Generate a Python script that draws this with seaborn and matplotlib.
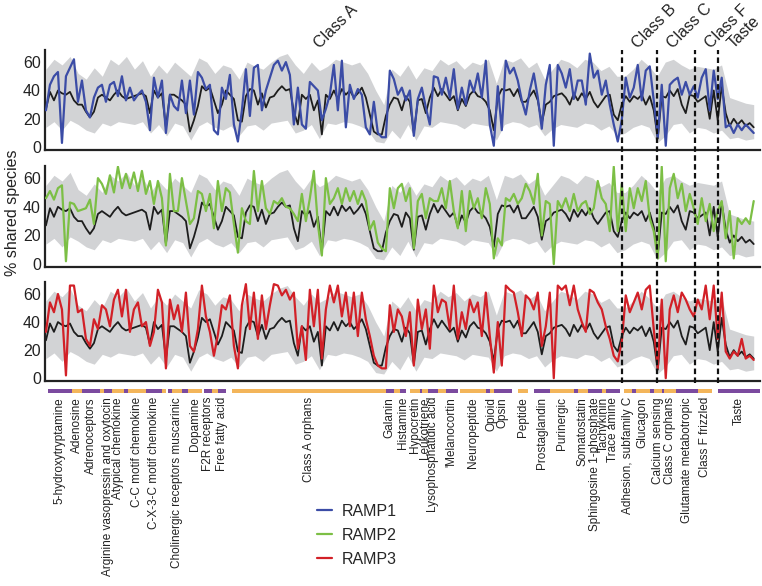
import numpy as np
import matplotlib.pyplot as plt
import seaborn as sns
from matplotlib.lines import Line2D

# % shared species per receptor position, one list per RAMP
ramp1 = [26, 44, 50, 53, 3, 50, 56, 62, 32, 47,
         26, 21, 35, 42, 44, 32, 44, 46, 36, 50,
         33, 42, 33, 37, 40, 32, 12, 49, 35, 47,
         10, 37, 29, 26, 47, 24, 47, 23, 53, 49,
         41, 44, 12, 9, 42, 34, 51, 16, 4, 26,
         55, 22, 56, 58, 26, 40, 49, 58, 61, 54,
         60, 51, 16, 42, 16, 13, 46, 43, 40, 19,
         27, 37, 58, 26, 61, 14, 44, 34, 41, 37,
         14, 9, 32, 10, 7, 7, 54, 48, 37, 42,
         33, 40, 8, 34, 42, 28, 16, 50, 49, 37,
         49, 35, 55, 27, 42, 30, 47, 39, 52, 35,
         61, 16, 1, 43, 12, 61, 52, 56, 47, 33,
         23, 40, 52, 35, 13, 44, 58, 1, 58, 52,
         42, 55, 34, 47, 47, 30, 66, 49, 54, 37,
         47, 30, 16, 4, 19, 49, 35, 42, 58, 33,
         54, 57, 33, 7, 44, 1, 44, 47, 49, 37,
         46, 37, 43, 35, 49, 55, 26, 54, 34, 49,
         14, 16, 10, 16, 12, 16, 13, 10]
ramp2 = [46, 51, 45, 53, 55, 2, 43, 42, 37, 38,
         39, 45, 28, 60, 56, 49, 62, 50, 68, 53,
         63, 53, 64, 51, 65, 49, 58, 42, 58, 46,
         13, 63, 37, 37, 60, 44, 28, 32, 51, 49,
         37, 49, 25, 58, 37, 53, 50, 28, 8, 39,
         30, 28, 65, 37, 58, 39, 35, 44, 42, 46,
         40, 39, 35, 30, 49, 30, 46, 65, 28, 6,
         60, 42, 46, 53, 42, 53, 44, 51, 42, 51,
         44, 24, 30, 15, 11, 9, 53, 39, 53, 56,
         44, 53, 11, 44, 49, 32, 46, 44, 44, 53,
         39, 58, 37, 25, 51, 23, 51, 39, 46, 32,
         53, 42, 4, 18, 13, 46, 44, 49, 42, 46,
         56, 51, 42, 63, 20, 44, 42, 0, 44, 39,
         46, 37, 49, 37, 42, 44, 35, 39, 58, 46,
         42, 23, 68, 23, 56, 23, 53, 39, 53, 44,
         58, 32, 23, 4, 68, 2, 53, 63, 46, 56,
         37, 49, 39, 28, 46, 30, 42, 23, 37, 44,
         18, 37, 4, 32, 28, 32, 28, 44]
ramp3 = [33, 54, 47, 60, 49, 2, 66, 66, 47, 49,
         28, 23, 42, 35, 52, 49, 37, 56, 63, 44,
         63, 33, 49, 54, 37, 40, 23, 33, 63, 54,
         7, 56, 42, 52, 33, 61, 23, 19, 35, 66,
         44, 33, 16, 31, 52, 49, 59, 23, 7, 52,
         67, 35, 61, 28, 59, 35, 52, 67, 66, 59,
         63, 56, 61, 21, 37, 13, 63, 37, 63, 14,
         49, 66, 54, 66, 44, 61, 37, 61, 30, 61,
         42, 30, 16, 9, 7, 7, 52, 33, 49, 44,
         30, 47, 9, 56, 35, 49, 21, 66, 47, 56,
         54, 35, 66, 28, 47, 35, 56, 47, 54, 30,
         61, 30, 4, 40, 9, 66, 63, 61, 47, 30,
         59, 56, 49, 61, 23, 37, 61, 0, 66, 63,
         66, 52, 66, 49, 40, 33, 63, 61, 54, 49,
         37, 28, 16, 12, 26, 59, 47, 54, 61, 49,
         63, 66, 35, 7, 56, 0, 49, 59, 47, 61,
         56, 49, 44, 56, 49, 66, 42, 66, 28, 61,
         19, 14, 19, 16, 28, 14, 16, 13]

# mean over all RAMPs (black) and its spread (grey band, every second position)
mean_all = [27, 39, 33, 40, 38, 37, 39, 33, 30, 30,
            25, 21, 25, 35, 37, 35, 33, 37, 40, 36,
            34, 35, 36, 37, 38, 36, 24, 40, 35, 38,
            14, 37, 37, 35, 33, 30, 11, 19, 29, 43,
            40, 42, 33, 24, 30, 40, 37, 34, 19, 18,
            36, 41, 40, 30, 38, 28, 35, 36, 40, 43,
            40, 41, 25, 16, 37, 34, 37, 26, 33, 9,
            37, 34, 40, 34, 41, 37, 40, 35, 38, 42,
            35, 23, 11, 9, 9, 22, 30, 35, 34, 26,
            36, 32, 10, 33, 34, 24, 35, 42, 36, 41,
            37, 33, 36, 26, 34, 29, 37, 40, 36, 35,
            32, 26, 12, 35, 41, 40, 41, 36, 41, 32,
            32, 36, 40, 33, 17, 30, 32, 36, 37, 38,
            35, 30, 38, 33, 38, 34, 39, 32, 28, 32,
            36, 37, 23, 19, 30, 36, 32, 36, 34, 37,
            30, 36, 26, 6, 36, 35, 40, 36, 41, 30,
            24, 37, 36, 32, 34, 36, 20, 40, 19, 43,
            24, 15, 20, 16, 19, 15, 17, 14]
band_hi = [55, 62, 58, 64, 52, 48, 56, 50, 62, 58,
           64, 55, 61, 50, 58, 52, 60, 55, 50, 63,
           60, 52, 58, 56, 48, 60, 57, 55, 60, 64,
           66, 58, 52, 60, 54, 57, 62, 60, 58, 60,
           52, 40, 30, 55, 50, 58, 48, 56, 54, 62,
           58, 61, 55, 60, 58, 62, 45, 62, 60, 63,
           56, 60, 48, 55, 62, 60, 56, 62, 60, 54,
           57, 50, 50, 55, 62, 57, 50, 60, 62, 58,
           55, 57, 56, 55, 58, 35, 33, 31, 30]
band_lo = [14, 18, 12, 19, 16, 12, 10, 17, 15, 18,
           17, 16, 18, 10, 16, 8, 17, 15, 5, 15,
           18, 14, 12, 15, 8, 15, 16, 12, 17, 18,
           19, 10, 12, 16, 6, 17, 16, 18, 17, 15,
           12, 4, 3, 12, 6, 16, 5, 15, 14, 18,
           17, 16, 13, 17, 16, 15, 5, 16, 18, 17,
           14, 16, 8, 13, 16, 15, 14, 17, 16, 12,
           15, 8, 10, 14, 16, 14, 3, 8, 16, 17,
           10, 14, 13, 10, 12, 6, 7, 5, 6]

# receptor families along x (start slot, number of slots)
fam_names = ["5-hydroxytryptamine", "Adenosine", "Adrenoceptors", "",
             "Arginine vasopressin and oxytocin", "Atypical chemokine", "",
             "C-C motif chemokine", "C-X-3-C motif chemokine", "", "",
             "Cholinergic receptors muscarinic", "", "Dopamine", "F2R receptors", "",
             "Free fatty acid", "Class A orphans", "Galanin", "", "Histamine",
             "Hypocretin", "", "Leukotriene", "Lysophosphatidic acid", "",
             "'Melanocortin", "Neuropeptide", "", "Opioid", "Opsin", "Peptide",
             "Prostaglandin", "Purinergic", "", "Somatostatin",
             "Sphingosine 1-phosphate", "Tachykinin", "Trace amine",
             "Adhesion, subfamily C", "", "Glucagon", "", "Calcium sensing", "",
             "Class C orphans", "Glutamate metabotropic", "Class F frizzled", "Taste"]
fam_start = [1, 13, 18, 27, 29, 33, 39, 41, 50, 58, 61, 63, 68, 71, 79, 83, 86,
             93, 170, 174, 177, 182, 187, 188, 191, 196, 200, 207, 220, 222, 224,
             236, 244, 252, 264, 266, 271, 278, 280, 289, 293, 295, 302, 304, 308,
             309, 315, 326, 336]
fam_size = [12, 5, 9, 2, 4, 6, 2, 9, 8, 2, 2, 5, 3, 7, 4, 3, 4,
            77, 4, 3, 3, 5, 1, 3, 5, 4, 6, 13, 2, 2, 9,
            5, 8, 12, 2, 5, 7, 2, 7, 4, 2, 7, 2, 4, 1,
            6, 11, 7, 21]

class_names = ["Class A", "Class B", "Class C", "Class F", "Taste"]
class_start = [0, 288, 305.5, 324.5, 336]

SPAN = 354
XLIM = (-0.5, 357)


def spread(vals):
    return np.linspace(0, SPAN, len(vals))


sns.set_theme(style="ticks")
plt.rcParams["font.family"] = ["Liberation Sans", "DejaVu Sans"]

fig = plt.figure(figsize=(7.62, 5.86), dpi=100)
left, width = 0.059, 0.938
rows = [(0.744, 0.1706), (0.5444, 0.1724), (0.3498, 0.1689)]
series = [("RAMP1", ramp1, "#3b4ca6"),
          ("RAMP2", ramp2, "#7cbf45"),
          ("RAMP3", ramp3, "#d22027")]

for (bottom, height), (name, vals, color) in zip(rows, series):
    ax = fig.add_axes([left, bottom, width, height])
    ax.set_facecolor("none")
    ax.fill_between(spread(band_lo), band_lo, band_hi, color="#d2d3d5", lw=0, zorder=1)
    sns.lineplot(x=spread(mean_all), y=mean_all, ax=ax, color="#1d1d1d",
                 lw=1.3, zorder=2, estimator=None)
    sns.lineplot(x=spread(vals), y=vals, ax=ax, color=color,
                 lw=1.6, zorder=3, estimator=None)
    ax.set_xlim(*XLIM)
    ax.set_ylim(-2, 68.5)
    ax.set_yticks([0, 20, 40, 60])
    ax.set_xticks([])
    ax.set_xlabel("")
    ax.set_ylabel("")
    ax.tick_params(axis="y", length=0, pad=3, labelsize=11.5, colors="#222")
    sns.despine(ax=ax)
    for s in ("left", "bottom"):
        ax.spines[s].set_color("#222")
        ax.spines[s].set_linewidth(1.6)

fig.text(0.016, 0.6365, "% shared species", rotation=90, ha="center",
         va="center", fontsize=11.5, color="#222")

# family strip under the panels
ax_c = fig.add_axes([left, 0.3259, width, 0.01365])
fam_colors = ["#7b4a9f" if i % 2 == 0 else "#f3b55a" for i in range(len(fam_names))]
ax_c.barh(0.5, fam_size, left=fam_start, height=0.45, color=fam_colors, lw=0)
ax_c.set_xlim(*XLIM)
ax_c.set_ylim(0, 1)
ax_c.axis("off")
for name, s, n in zip(fam_names, fam_start, fam_size):
    if name:
        ax_c.text(s + n / 2, -0.25, name, rotation=90, ha="center", va="top",
                  fontsize=8.5, color="#222")

# class boundaries and class names across all panels
ax_o = fig.add_axes([left, 0.3464, width, 0.5683])
ax_o.set_xlim(*XLIM)
ax_o.set_ylim(0, 1)
ax_o.axis("off")
ax_o.vlines(class_start[1:], 0, 1, colors="#111", lw=1.6, linestyles=(0, (2.5, 1.5)))
for i, name in enumerate(class_names):
    if i == 0:
        x = (class_start[0] + class_start[1]) / 2 - 6
    else:
        x = class_start[i] + 9
    ax_o.text(x, 0.997, name, rotation=45, rotation_mode="anchor",
              ha="left", va="bottom", fontsize=11.5, color="#222")

handles = [Line2D([], [], color=c, lw=1.6) for _, _, c in series]
fig.legend(handles, [n for n, _, _ in series], loc="upper left",
           bbox_to_anchor=(0.416, 0.140), frameon=False, fontsize=11.5,
           handlelength=0.95, handletextpad=0.6, labelspacing=0.55,
           borderpad=0, borderaxespad=0)

fig.savefig("out.png", dpi=100)
